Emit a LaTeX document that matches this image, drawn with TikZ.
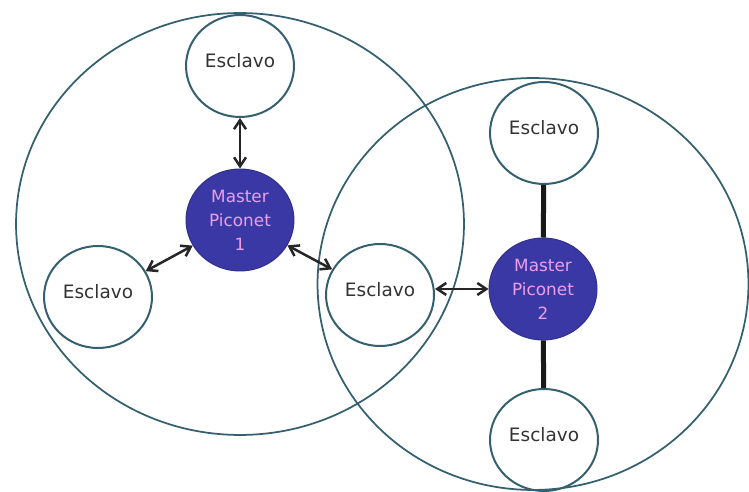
\documentclass[tikz,border=0pt]{standalone}
\usepackage{fontspec}
\setmainfont{DejaVu Sans}
\usepackage{xcolor}
\usepackage{tikz}
\usetikzlibrary{shapes.geometric,arrows.meta}
\definecolor{rim}{RGB}{52,96,112}
\definecolor{masterblue}{RGB}{58,56,164}
\definecolor{masterpink}{RGB}{236,160,236}

\begin{document}
\begin{tikzpicture}[x=0.02cm,y=-0.02cm,
	piconet/.style={shape=ellipse,draw=rim,line width=0.035cm,inner sep=0pt},
	esclavo/.style={shape=ellipse,draw=rim,line width=0.04cm,minimum width=2.16cm,minimum height=2.04cm,inner sep=0pt,text depth=0.24cm,text=black!80,font=\fontsize{10.5}{12}\selectfont},
	master/.style={shape=ellipse,draw=masterblue!85!black,fill=masterblue,line width=0.02cm,minimum width=2.16cm,minimum height=2.04cm,inner sep=0pt,align=center,text=masterpink,font=\fontsize{9.6}{13.6}\selectfont},
	enlace/.style={<->,>={Straight Barb[length=0.18cm,width=0.24cm]},line width=0.05cm,draw=black!85},
	fijo/.style={line width=0.1cm,draw=black!90}]
	\path[use as bounding box,fill=white] (0,0) rectangle (749,492);
	% las dos piconets
	\node (piconet1) at(240,224)[piconet,minimum width=8.96cm,minimum height=8.44cm]{};
	\node (piconet2) at(533,284)[piconet,minimum width=8.62cm,minimum height=8.24cm]{};
	\foreach \nombre/\x/\y in {esc1top/240/66,esc1left/98/297,esc12/380/295,esc2top/544/133,esc2bot/544/440}{
		\node (\nombre) at(\x,\y)[esclavo]{Esclavo};
	}
	\node (master1) at(240,220)[master]{Master\\Piconet\\1};
	\node (master2) at(543,289)[master]{Master\\Piconet\\2};
	\draw[enlace] (esc1top) -- (master1);
	\draw[enlace] (esc1left) -- (master1);
	\draw[enlace] (master1) -- (esc12);
	\draw[enlace] (esc12.east |- master2) -- (master2.west);
	\draw[fijo] (esc2top) -- (master2);
	\draw[fijo] (master2) -- (esc2bot);
\end{tikzpicture}
\end{document}
